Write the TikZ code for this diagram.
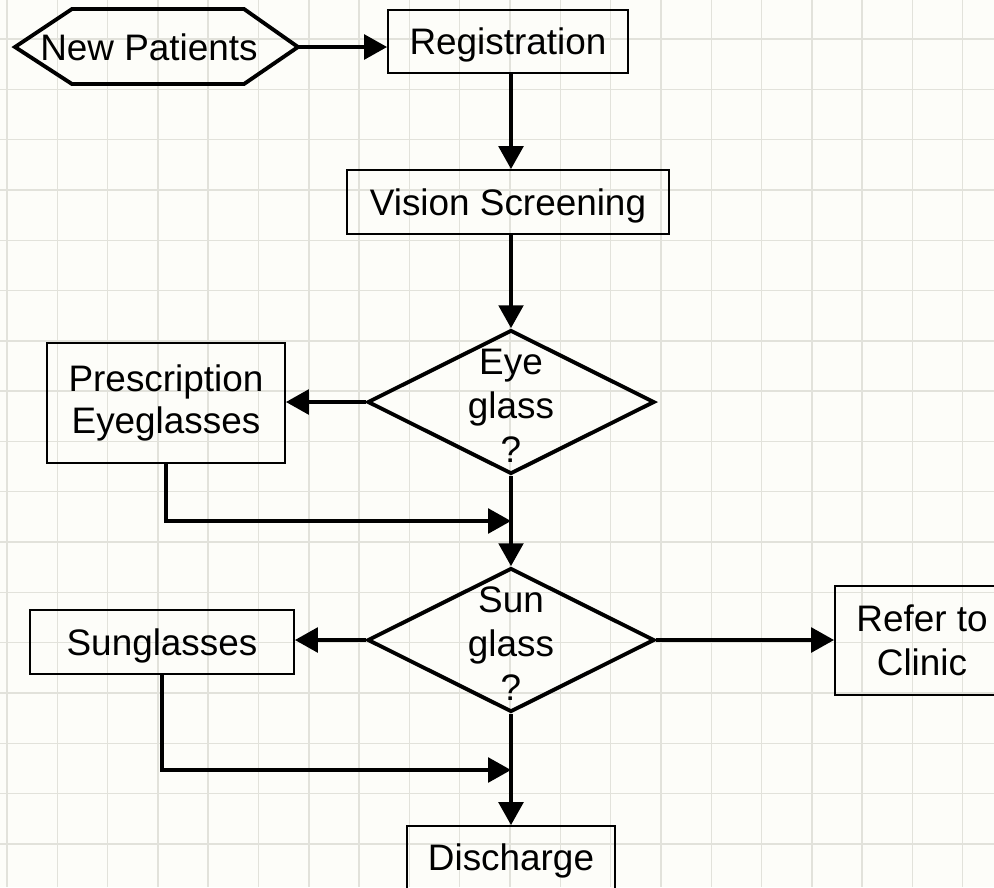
\documentclass[tikz,border=0pt]{standalone}
\usepackage{fontspec}
\setmainfont{Liberation Sans}
\usetikzlibrary{arrows.meta,shapes.geometric}
\definecolor{paper}{RGB}{253,253,249}
\definecolor{gridc}{RGB}{226,226,219}

\begin{document}
\begin{tikzpicture}[x=0.02cm,y=-0.02cm,
  font=\fontsize{21}{25}\selectfont,
  box/.style={draw,line width=1.1pt,inner sep=0pt,align=center},
  oneline/.style={text height=15pt,text depth=0pt},
  dec/.style={draw,diamond,line width=2.2pt,inner sep=0pt,minimum width=5.74cm,minimum height=2.88cm},
  arr/.style={-{Triangle[length=13pt,width=14pt]},line width=2pt}]
\useasboundingbox (0,0) rectangle (994,887);
\fill[paper] (0,0) rectangle (994,887);
\clip (0,0) rectangle (994,887);
% background grid
\foreach \k in {0,...,19}
  \draw[gridc,line width=0.8pt] ({7+50.3*\k},0) -- ({7+50.3*\k},887);
\foreach \k in {0,...,16}
  \draw[gridc,line width=0.8pt] (0,{39+50.3*\k}) -- (994,{39+50.3*\k});

% start
\node[oneline,inner sep=0pt] (newp) at (149,47.5) {New Patients};
\draw[line width=2.2pt,line join=miter] (15,47) -- (72,9) -- (244,9) -- (298,47) -- (244,84) -- (72,84) -- cycle;
\coordinate (newpR) at (298,47);

\node[box,oneline,minimum width=4.8cm,minimum height=1.26cm] (reg) at (508,41.5) {Registration};
\node[box,oneline,minimum width=6.44cm,minimum height=1.28cm] (vis) at (508,202) {Vision Screening};
\node[dec] (eye) at (511,402) {};
\node[align=center] (eyet) at ([yshift=-2]eye) {Eye\\glass\\?};
\node[box,minimum width=4.76cm,minimum height=2.4cm] (presc) at (166,403) {Prescription\\[-1pt]Eyeglasses};
\node[dec] (sun) at (511,640) {};
\node[align=center] (sunt) at ([yshift=-2]sun) {Sun\\glass\\?};
\node[box,oneline,minimum width=5.28cm,minimum height=1.28cm] (sung) at (162,642) {Sunglasses};
\node[box,minimum width=3.48cm,minimum height=2.18cm] (refer) at (922,640.5) {Refer to\\Clinic};
\node[box,oneline,minimum width=4.16cm,minimum height=1.26cm] (dis) at (511,857.5) {Discharge};

\coordinate (j1) at (511,521);
\coordinate (j2) at (511,770);

\draw[arr] (newpR) -- (newpR -| reg.west);
\draw[arr] (reg.south -| eye.north) -- (vis.north -| eye.north);
\draw[arr] (vis.south -| eye.north) -- (eye.north);
\draw[arr] (eye.west) -- (eye.west -| presc.east);
\draw[arr] (presc.south) |- (j1);
\draw[arr] (eye.south) -- (sun.north);
\draw[arr] (sun.west) -- (sun.west -| sung.east);
\draw[arr] (sun.east) -- (sun.east -| refer.west);
\draw[arr] (sung.south) |- (j2);
\draw[arr] (sun.south) -- (dis.north);
\end{tikzpicture}
\end{document}
